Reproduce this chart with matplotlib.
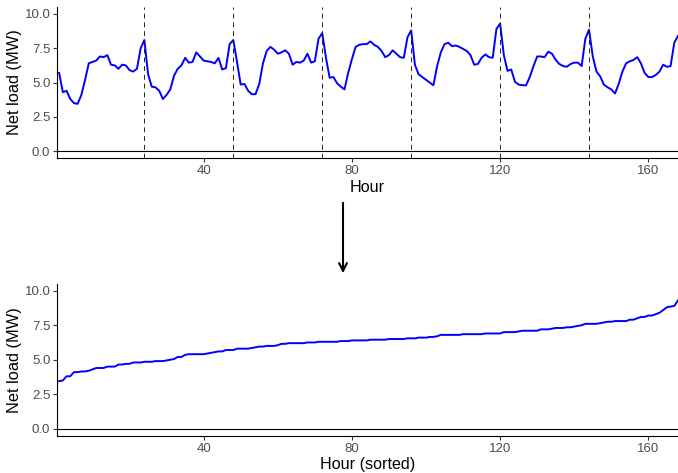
import matplotlib

matplotlib.use("Agg")
import matplotlib.pyplot as plt
import numpy as np

plt.rcParams["font.family"] = ["Liberation Sans", "DejaVu Sans"]

# hourly net load over one week (MW)
hours = np.arange(1, 169)
net_load = np.array([
    5.7, 4.3, 4.4, 3.8, 3.5, 3.45, 4.1, 5.2, 6.4, 6.5, 6.6, 6.9,
    6.85, 7.0, 6.3, 6.25, 6.0, 6.3, 6.25, 5.9, 5.8, 6.0, 7.5, 8.1,
    5.6, 4.7, 4.65, 4.4, 3.8, 4.1, 4.5, 5.5, 6.0, 6.25, 6.8, 6.45,
    6.5, 7.2, 6.9, 6.6, 6.55, 6.5, 6.4, 6.8, 5.95, 6.05, 7.8, 8.1,
    6.5, 4.85, 4.9, 4.4, 4.15, 4.15, 4.9, 6.4, 7.3, 7.6, 7.4, 7.1,
    7.2, 7.35, 7.1, 6.3, 6.5, 6.45, 6.6, 7.1, 6.45, 6.55, 8.2, 8.6,
    6.8, 5.35, 5.4, 4.95, 4.7, 4.5, 5.7, 6.7, 7.6, 7.75, 7.8, 7.8,
    8.0, 7.75, 7.6, 7.3, 6.85, 7.0, 7.35, 7.1, 6.85, 6.8, 8.3, 8.8,
    6.3, 5.6, 5.4, 5.2, 5.0, 4.8, 6.2, 7.2, 7.8, 7.9, 7.65, 7.7,
    7.6, 7.45, 7.3, 7.0, 6.3, 6.35, 6.8, 7.05, 6.85, 6.8, 8.9, 9.3,
    7.0, 5.85, 5.95, 5.05, 4.85, 4.8, 4.8, 5.4, 6.2, 6.9, 6.9, 6.85,
    7.25, 7.1, 6.65, 6.35, 6.2, 6.15, 6.35, 6.45, 6.45, 6.2, 8.2, 8.85,
    6.9, 5.8, 5.45, 4.85, 4.65, 4.5, 4.2, 4.9, 5.8, 6.4, 6.55, 6.65,
    6.85, 6.4, 5.7, 5.4, 5.4, 5.55, 5.8, 6.3, 6.15, 6.2, 7.9, 8.4,
])
day_breaks = [24, 48, 72, 96, 120, 144]
x_ticks = [40, 80, 120, 160]
y_ticks = [0.0, 2.5, 5.0, 7.5, 10.0]

sorted_load = np.sort(net_load)

fig = plt.figure(figsize=(6.78, 4.73), dpi=100)
ax_top = fig.add_axes([0.0845, 0.666, 0.9155, 0.319])
ax_bot = fig.add_axes([0.0845, 0.079, 0.9155, 0.321])


def style_axis(ax, xlabel):
    ax.axhline(0, color="black", linewidth=0.8)
    ax.set_xlim(0.5, 168)
    ax.set_ylim(-0.5, 10.5)
    ax.set_xticks(x_ticks)
    ax.set_yticks(y_ticks)
    ax.set_yticklabels([f"{t:.1f}" for t in y_ticks])
    for side in ["top", "right"]:
        ax.spines[side].set_visible(False)
    for side in ["left", "bottom"]:
        ax.spines[side].set_linewidth(0.8)
        ax.spines[side].set_color("black")
    ax.tick_params(length=3, width=0.8, color="#333333",
                   labelcolor="#4D4D4D", labelsize=9.5, pad=2)
    ax.set_xlabel(xlabel, fontsize=11.6, labelpad=2)
    ax.set_ylabel("Net load (MW)", fontsize=11.8, labelpad=2)


ax_top.plot(hours, net_load, color="#0000FF", linewidth=1.4)
for b in day_breaks:
    ax_top.axvline(b, color="#222222", linewidth=0.7, linestyle=(0, (5, 4)))
style_axis(ax_top, "Hour")

ax_bot.plot(hours, sorted_load, color="#0000FF", linewidth=1.4)
style_axis(ax_bot, "Hour (sorted)")

# arrow linking the chronological and sorted views
fig.add_artist(matplotlib.patches.FancyArrowPatch(
    (343 / 678, 1 - 200 / 473), (343 / 678, 1 - 276 / 473),
    transform=fig.transFigure, arrowstyle="->", mutation_scale=14,
    color="black", linewidth=1.5,
))

fig.savefig("out.png", dpi=100)
